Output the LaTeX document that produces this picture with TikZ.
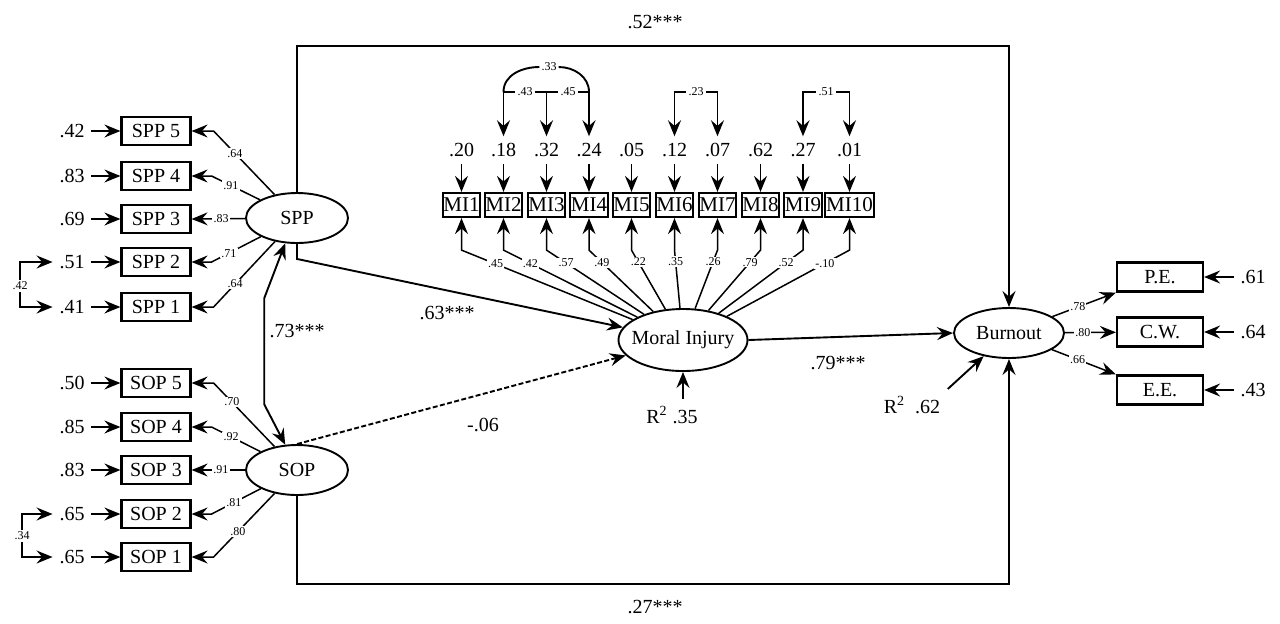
\documentclass[tikz,border=0pt]{standalone}
\usepackage{fontspec}
\setmainfont{Liberation Serif}
\usetikzlibrary{arrows.meta,shapes.geometric}

\begin{document}
\begin{tikzpicture}[x=0.5pt,y=-0.5pt,line width=0.95pt,
		font=\fontsize{10}{12}\selectfont,
		arr/.style={-{Stealth[length=8pt,width=6.5pt,inset=2.8pt]}},
		rarr/.style={{Stealth[length=8pt,width=6.5pt,inset=2.8pt]}-},
		barr/.style={{Stealth[length=8pt,width=6.5pt,inset=2.8pt]}-{Stealth[length=8pt,width=6.5pt,inset=2.8pt]}},
		item/.style={draw,line width=1.1pt,minimum width=34.5pt,minimum height=14pt,inner sep=0pt},
		miitem/.style={draw,line width=1.1pt,minimum width=18.5pt,minimum height=12pt,inner sep=0.4pt,font=\fontsize{10.5}{12}\selectfont},
		factor/.style={draw,ellipse,inner sep=0pt},
		err/.style={inner sep=3pt},
		load/.style={rarr,line width=0.75pt},
		coef/.style={fill=white,inner sep=0.6pt,font=\fontsize{6}{7}\selectfont}]
	\useasboundingbox (0,0) rectangle (1280,623);

	% latent variables
	\node[factor,minimum width=51pt,minimum height=25pt] (spp) at (297,218) {SPP};
	\node[factor,minimum width=51pt,minimum height=25pt] (sop) at (297,470) {SOP};
	\node[factor,minimum width=64.5pt,minimum height=31pt,inner xsep=-4pt] (mi) at (683,340) {Moral Injury};
	\node[factor,minimum width=55pt,minimum height=25pt] (bo) at (1009,333) {Burnout};

	% SPP items
	\node[item] (spp5) at (156,131) {SPP 5};
	\node[item] (spp4) at (156,176) {SPP 4};
	\node[item] (spp3) at (156,219) {SPP 3};
	\node[item] (spp2) at (156,262) {SPP 2};
	\node[item] (spp1) at (156,307) {SPP 1};
	\node[err] (ep5) at (72,131) {.42};
	\node[err] (ep4) at (72,176) {.83};
	\node[err] (ep3) at (72,219) {.69};
	\node[err] (ep2) at (72,262) {.51};
	\node[err] (ep1) at (72,307) {.41};
	\draw[arr] (ep5) -- (spp5);
	\draw[arr] (ep4) -- (spp4);
	\draw[arr] (ep3) -- (spp3);
	\draw[arr] (ep2) -- (spp2);
	\draw[arr] (ep1) -- (spp1);
	\draw[load] (spp5.east) -- ++(22,0) -- (spp) node[coef,pos=0.35] (lp5) {.64};
	\draw[load] (spp4.east) -- ++(20,0) -- (spp) node[coef,pos=0.4] (lp4) {.91};
	\draw[load] (spp3.east) -- (spp) node[coef,pos=0.55] (lp3) {.83};
	\draw[load] (spp2.east) -- ++(20,0) -- (spp) node[coef,pos=0.35] (lp2) {.71};
	\draw[load] (spp1.east) -- ++(22,0) -- (spp) node[coef,pos=0.35] (lp1) {.64};
	\node[coef] (cp) at (20,286) {.42};
	\draw[arr] (cp) |- (ep2);
	\draw[arr] (cp) |- (ep1);

	% SOP items
	\node[item] (sop5) at (156,383) {SOP 5};
	\node[item] (sop4) at (156,427) {SOP 4};
	\node[item] (sop3) at (156,470) {SOP 3};
	\node[item] (sop2) at (156,514) {SOP 2};
	\node[item] (sop1) at (156,557) {SOP 1};
	\node[err] (eo5) at (72,383) {.50};
	\node[err] (eo4) at (72,427) {.85};
	\node[err] (eo3) at (72,470) {.83};
	\node[err] (eo2) at (72,514) {.65};
	\node[err] (eo1) at (72,557) {.65};
	\draw[arr] (eo5) -- (sop5);
	\draw[arr] (eo4) -- (sop4);
	\draw[arr] (eo3) -- (sop3);
	\draw[arr] (eo2) -- (sop2);
	\draw[arr] (eo1) -- (sop1);
	\draw[load] (sop5.east) -- ++(22,0) -- (sop) node[coef,pos=0.3] (lo5) {.70};
	\draw[load] (sop4.east) -- ++(20,0) -- (sop) node[coef,pos=0.4] (lo4) {.92};
	\draw[load] (sop3.east) -- (sop) node[coef,pos=0.55] (lo3) {.91};
	\draw[load] (sop2.east) -- ++(20,0) -- (sop) node[coef,pos=0.45] (lo2) {.81};
	\draw[load] (sop1.east) -- ++(22,0) -- (sop) node[coef,pos=0.4] (lo1) {.80};
	\node[coef] (co) at (22,536) {.34};
	\draw[arr] (co) |- (eo2);
	\draw[arr] (co) |- (eo1);

	% moral injury items
	\node[miitem] (mi1) at (461.5,205) {MI1};
	\node[miitem] (mi2) at (503.5,205) {MI2};
	\node[miitem] (mi3) at (546.5,205) {MI3};
	\node[miitem] (mi4) at (589,205) {MI4};
	\node[miitem] (mi5) at (631.5,205) {MI5};
	\node[miitem] (mi6) at (674.5,205) {MI6};
	\node[miitem] (mi7) at (717.5,205) {MI7};
	\node[miitem] (mi8) at (760.5,205) {MI8};
	\node[miitem] (mi9) at (803,205) {MI9};
	\node[miitem] (mi10) at (849.5,205) {MI10};
	\node[err] (u1) at (461.5,150) {.20};
	\node[err] (u2) at (503.5,150) {.18};
	\node[err] (u3) at (546.5,150) {.32};
	\node[err] (u4) at (589,150) {.24};
	\node[err] (u5) at (631.5,150) {.05};
	\node[err] (u6) at (674.5,150) {.12};
	\node[err] (u7) at (717.5,150) {.07};
	\node[err] (u8) at (760.5,150) {.62};
	\node[err] (u9) at (803,150) {.27};
	\node[err] (u10) at (849.5,150) {.01};
	\draw[arr] (u1) -- (mi1);
	\draw[arr] (u2) -- (mi2);
	\draw[arr] (u3) -- (mi3);
	\draw[arr] (u4) -- (mi4);
	\draw[arr] (u5) -- (mi5);
	\draw[arr] (u6) -- (mi6);
	\draw[arr] (u7) -- (mi7);
	\draw[arr] (u8) -- (mi8);
	\draw[arr] (u9) -- (mi9);
	\draw[arr] (u10) -- (mi10);
	\draw[load] (mi1.south) -- ++(0,32) -- (mi) node[coef,pos=0.2] (lm1) {.45};
	\draw[load] (mi2.south) -- ++(0,32) -- (mi) node[coef,pos=0.2] (lm2) {.42};
	\draw[load] (mi3.south) -- ++(0,32) -- (mi) node[coef,pos=0.2] (lm3) {.57};
	\draw[load] (mi4.south) -- ++(0,32) -- (mi) node[coef,pos=0.2] (lm4) {.49};
	\draw[load] (mi5.south) -- ++(0,32) -- (mi) node[coef,pos=0.2] (lm5) {.22};
	\draw[load] (mi6.south) -- ++(0,32) -- (mi) node[coef,pos=0.2] (lm6) {.35};
	\draw[load] (mi7.south) -- ++(0,32) -- (mi) node[coef,pos=0.2] (lm7) {.26};
	\draw[load] (mi8.south) -- ++(0,32) -- (mi) node[coef,pos=0.2] (lm8) {.79};
	\draw[load] (mi9.south) -- ++(0,32) -- (mi) node[coef,pos=0.2] (lm9) {.52};
	\draw[load] (mi10.south) -- ++(0,32) -- (mi) node[coef,pos=0.2] (lm10) {-.10};
	% error covariances
	\node[coef] (k43) at (525,92) {.43};
	\node[coef] (k45) at (568,92) {.45};
	\node[coef] (k33) at (549,67) {.33};
	\node[coef] (k23) at (696,92) {.23};
	\node[coef] (k51) at (826,92) {.51};
	\draw[rarr] (u2) |- (k43);
	\draw[rarr] (u3) |- (k43);
	\draw (u3.north |- k45) -- (k45);
	\draw[rarr] (u4) |- (k45);
	\draw (u2.north |- k43) to[out=90,in=180] (k33);
	\draw (k33) to[out=0,in=90] (u4.north |- k45);
	\draw[rarr] (u6) |- (k23);
	\draw[rarr] (u7) |- (k23);
	\draw[rarr] (u9) |- (k51);
	\draw[rarr] (u10) |- (k51);
	\node (r2m) at (672,415) {R\textsuperscript{2} .35};
	\draw[arr] (mi.south |- r2m.north) -- (mi.south);

	% burnout items
	\node[item,minimum width=43pt,minimum height=14.5pt] (pe) at (1160,277) {P.E.};
	\node[item,minimum width=43pt,minimum height=14.5pt] (cw) at (1160,332) {C.W.};
	\node[item,minimum width=43pt,minimum height=14.5pt] (ee) at (1160,390) {E.E.};
	\node[err] (rb1) at (1253,277) {.61};
	\node[err] (rb2) at (1253,332) {.64};
	\node[err] (rb3) at (1253,390) {.43};
	\draw[arr] (rb1) -- (pe);
	\draw[arr] (rb2) -- (cw);
	\draw[arr] (rb3) -- (ee);
	\draw[arr,line width=0.75pt] (bo) -- (pe.south west) node[coef,pos=0.4] (lb1) {.78};
	\draw[arr,line width=0.75pt] (bo) -- (cw) node[coef,pos=0.35] (lb2) {.80};
	\draw[arr,line width=0.75pt] (bo) -- (ee.north west) node[coef,pos=0.4] (lb3) {.66};
	\node (r2b) at (912,405) {R\textsuperscript{2}\ \ .62};
	\draw[arr] (r2b.north east) -- (bo);

	% structural paths
	\draw[barr] (spp.245) -- ++(-21,55) -- ++(0,106) -- (sop.115);
	\draw[arr] (spp.south) -- ++(0,15) -- (mi);
	\draw[arr,dash pattern=on 2.5pt off 1.2pt] (sop.north) -- (mi);
	\draw[arr] (mi.east) -- (bo.west);
	\draw[arr] (spp.north) -- ++(0,-146) -| (bo.north);
	\draw[arr] (sop.south) -- ++(0,88) -| (bo.south);
	\node (p73) at (297,331) {.73***};
	\node (p63) at (447,313) {.63***};
	\node (p06) at (483,425) {-.06};
	\node (p79) at (838,363) {.79***};
	\node (p52) at (655,22) {.52***};
	\node (p27) at (655,607) {.27***};
\end{tikzpicture}
\end{document}
